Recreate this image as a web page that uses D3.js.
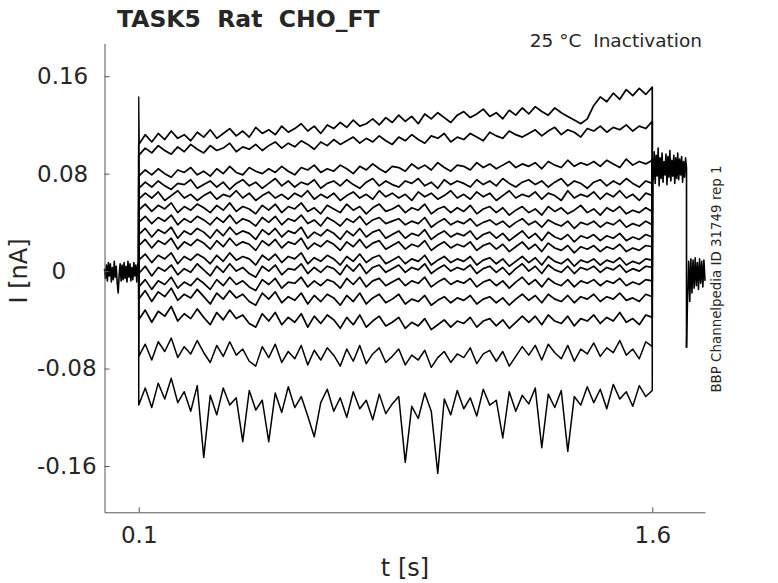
<!DOCTYPE html>
<html>
<head>
<meta charset="utf-8">
<script src="https://cdn.jsdelivr.net/npm/d3@7"></script>
<style>
  body{margin:0;background:#fff;}
  text{font-family:"DejaVu Sans",sans-serif;fill:#262626;}
</style>
</head>
<body>
<svg></svg>
<script>
// currents in pA
let preBase=[2,-6,5,-8,7,-4,6,-9,3,-7,8,-5,4,-10,-18,-3,6,-8,5,-7,7,-6,4,-9,8,-5,6,-8,3,-7,7,-4,5,-9,6,-2];
let postBand=[92,75,98,72,95,78,101,70,93,76,97,73,90,79,96,71,94,77,99,74,91,78,95,72,93,76,97,75,92,79,94,73,90,77,93,85];
let tailBand=[-63,-20,8,-25,10,-18,9,-14,11,-12,7,-15,10,-10,8,-13,9,-8];
let onsetSpike=[0,143,105];

let trace1=[104,112,106,113,108,115,109,112,107,114,110,116,109,113,117,111,115,110,118,113,116,112,119,114,117,121,115,119,113,120,117,122,118,124,119,121,125,120,126,122,128,123,127,121,129,125,130,126,122,128,131,126,129,133,127,130,125,132,128,134,129,135,131,128,134,130,127,124,121,125,136,143,139,146,141,149,144,150,145,151];
let trace2=[95,101,97,103,99,96,102,98,104,100,97,103,99,101,105,98,102,100,104,99,103,106,101,105,102,107,104,100,106,103,108,104,107,110,105,109,106,111,107,104,110,107,112,108,105,111,109,113,106,110,108,113,110,107,114,111,109,115,112,110,113,116,111,115,118,112,116,114,110,117,115,119,114,118,116,120,115,119,117,123];
let trace3=[78,83,79,84,80,77,83,81,85,79,82,78,84,80,86,81,79,85,82,80,84,81,86,82,79,85,83,87,81,84,82,87,84,80,86,83,88,84,81,86,85,82,88,84,87,83,89,85,82,87,86,83,89,85,88,84,87,90,85,88,86,89,84,90,87,85,91,86,89,87,90,86,91,88,85,92,87,90,88,91];
let trace4=[68,73,69,74,70,67,72,71,75,68,71,74,69,73,67,72,75,70,73,68,72,76,70,74,69,73,71,75,68,72,74,70,75,71,68,73,76,70,74,71,69,74,72,76,70,73,68,75,71,74,72,69,75,71,74,70,76,72,69,73,75,71,74,69,73,76,70,74,72,68,73,75,70,74,71,76,72,69,74,72];
let trace5=[59,64,60,65,58,62,66,60,63,58,62,65,59,63,61,66,60,64,58,62,65,60,63,59,64,61,66,59,63,60,64,58,62,65,60,63,59,66,61,64,60,63,58,65,61,64,59,62,66,60,63,59,65,61,64,58,62,66,60,63,61,65,59,64,62,58,66,60,63,61,65,59,64,61,66,60,63,58,64,62];
let trace6=[50,55,49,54,51,56,48,53,50,55,52,48,54,50,56,49,53,51,47,54,50,55,48,53,51,56,49,52,47,54,51,48,55,50,53,47,52,55,49,51,54,48,52,50,55,47,51,53,48,52,49,54,47,51,53,48,52,46,50,53,48,51,46,53,49,52,47,50,54,48,51,46,52,49,53,47,50,48,52,49];
let trace7=[40,45,39,44,41,46,38,43,40,45,42,38,44,40,46,39,43,41,37,44,40,45,38,43,41,46,39,42,37,44,41,37,43,40,45,38,42,44,39,41,43,38,41,39,44,36,40,43,38,41,39,43,37,40,42,38,41,36,40,43,38,41,36,42,39,37,41,35,40,38,41,36,40,38,42,36,39,37,41,38];
let trace8=[30,35,28,34,31,36,27,33,30,35,32,27,34,29,36,30,33,31,26,34,30,35,28,33,31,36,27,32,29,34,31,26,33,29,35,28,32,34,27,30,33,27,31,29,34,26,30,33,28,31,29,33,26,30,32,27,31,25,29,33,27,31,25,32,28,26,30,24,29,27,30,25,29,27,31,25,28,26,30,28];
let trace9=[21,26,19,25,22,27,18,24,21,26,23,18,25,20,27,21,24,22,17,25,21,26,19,24,22,27,18,23,20,25,22,17,24,20,26,19,23,25,18,21,24,18,22,20,25,17,21,24,19,22,20,24,17,21,23,18,22,16,20,24,18,22,16,23,19,17,21,15,20,18,21,16,20,18,22,16,19,17,21,20];
let trace10=[9,14,7,13,10,15,6,12,9,14,11,6,13,8,15,9,12,10,5,13,9,14,7,12,10,15,6,11,8,13,10,5,12,8,14,7,11,13,6,9,12,6,10,8,13,5,9,12,7,10,8,12,5,9,11,6,10,4,8,12,7,11,5,12,8,6,10,4,9,7,10,5,9,7,11,5,8,6,10,9];
let trace11=[-2,4,-4,3,0,5,-3,2,-1,6,1,-4,4,-1,6,0,3,-2,-5,4,0,5,-3,2,1,6,-2,3,-1,4,2,-3,5,0,6,-2,3,5,-1,2,5,-1,3,1,6,-2,2,5,0,3,1,5,-2,2,4,-1,3,-3,2,6,0,4,-2,5,1,-1,4,-2,3,1,4,-1,3,1,5,-1,2,0,4,3];
let trace12=[-13,-7,-15,-8,-11,-5,-14,-9,-12,-6,-10,-15,-7,-12,-5,-11,-8,-13,-16,-7,-11,-6,-14,-9,-10,-5,-13,-8,-12,-7,-9,-14,-6,-11,-5,-13,-8,-6,-12,-9,-6,-12,-8,-10,-5,-13,-9,-6,-11,-8,-10,-6,-13,-9,-7,-12,-8,-14,-9,-5,-11,-7,-13,-6,-10,-12,-7,-13,-8,-10,-7,-12,-8,-10,-6,-12,-9,-11,-7,-8];
let trace13=[-23,-16,-25,-17,-21,-14,-24,-19,-22,-15,-21,-27,-18,-23,-16,-22,-19,-25,-28,-18,-23,-17,-26,-21,-24,-18,-27,-20,-25,-19,-22,-28,-20,-25,-18,-27,-22,-19,-26,-23,-19,-27,-23,-25,-20,-28,-24,-21,-26,-22,-24,-20,-27,-23,-21,-26,-22,-28,-23,-19,-24,-20,-26,-19,-23,-25,-20,-26,-21,-23,-19,-25,-21,-23,-18,-24,-22,-25,-19,-21];
let trace14=[-40,-32,-42,-33,-37,-29,-41,-35,-39,-31,-38,-44,-34,-40,-32,-39,-36,-43,-46,-35,-41,-34,-44,-38,-42,-35,-46,-37,-43,-36,-40,-47,-38,-44,-36,-46,-41,-37,-45,-42,-38,-47,-42,-45,-39,-48,-44,-40,-46,-41,-43,-38,-46,-41,-39,-45,-40,-47,-42,-37,-42,-37,-44,-36,-41,-43,-37,-45,-39,-41,-36,-43,-38,-41,-34,-42,-39,-44,-36,-38];
let trace15=[-70,-60,-73,-58,-66,-55,-71,-62,-68,-57,-67,-75,-61,-70,-58,-69,-64,-74,-78,-62,-71,-60,-75,-66,-72,-61,-77,-65,-73,-63,-69,-78,-64,-74,-61,-76,-68,-63,-75,-70,-64,-77,-69,-73,-65,-79,-71,-66,-75,-68,-71,-63,-76,-68,-65,-74,-66,-78,-70,-62,-69,-61,-73,-60,-67,-72,-61,-74,-64,-68,-59,-70,-63,-67,-57,-69,-64,-72,-58,-62];
let trace16=[-110,-96,-112,-92,-105,-88,-108,-99,-115,-94,-153,-102,-118,-96,-110,-104,-140,-98,-114,-106,-140,-100,-116,-95,-112,-103,-119,-136,-108,-97,-115,-104,-120,-99,-113,-106,-122,-101,-117,-109,-103,-157,-111,-121,-100,-115,-166,-105,-118,-98,-113,-104,-119,-97,-110,-106,-137,-99,-115,-102,-109,-96,-145,-101,-112,-98,-148,-103,-110,-95,-108,-97,-113,-93,-105,-99,-111,-94,-103,-98];

let traces=[trace1,trace2,trace3,trace4,trace5,trace6,trace7,trace8,trace9,trace10,trace11,trace12,trace13,trace14,trace15,trace16];

let xTicks=[0.1,1.6];
let xTickLabels=['0.1','1.6'];
let yTicks=[-160,-80,0,80,160];
let yTickLabels=['-0.16','-0.08','0','0.08','0.16'];

// protocol times [s]
let tStart=0, tStep=0.1, tStepEnd=1.6, tPostEnd=1.70, tEnd=1.754;

let width=778;
let height=583;
const svg=d3.select('svg').attr('width',width).attr('height',height);

let xScale=d3.scaleLinear().domain([tStart,tEnd]).range([104.5,705]);
let yScale=d3.scaleLinear().domain([-198,187]).range([512.3,43.3]);

let line=d3.line().x(d=>xScale(d[0])).y(d=>yScale(d[1]));

// spread n values evenly between t0 and t1
let spread=(vals,t0,t1)=>vals.map((v,i)=>[t0+(t1-t0)*i/(vals.length-1),v]);

let drawTraces=()=>{
  let g=svg.append('g')
    .attr('fill','none')
    .attr('stroke','#000')
    .attr('stroke-linejoin','round');

  let preLast=preBase[preBase.length-1];
  traces.forEach((tr,k)=>{
    let pts=[[tStep,preLast]].concat(spread(tr,tStep,tStepEnd));
    pts.push([tStepEnd,postBand[0]]);
    g.append('path').attr('d',line(pts)).attr('stroke-width',k>13?1.5:1.7);
  });

  g.append('path').attr('d',line(spread(preBase,tStart,tStep))).attr('stroke-width',1.6);
  g.append('path').attr('d',line([[tStep,onsetSpike[0]],[tStep,onsetSpike[1]],[tStep+0.0015,onsetSpike[2]]])).attr('stroke-width',1.3);
  let post=spread(postBand,tStepEnd,tPostEnd);
  post.push([tPostEnd,tailBand[0]]);
  g.append('path').attr('d',line(post)).attr('stroke-width',1.6);
  g.append('path').attr('d',line(spread(tailBand,tPostEnd,tEnd))).attr('stroke-width',1.6);
}

let drawAxes=()=>{
  let xAxis=d3.axisBottom(xScale)
    .tickValues(xTicks)
    .tickFormat((d,i)=>xTickLabels[i])
    .tickSizeInner(-5).tickSizeOuter(0).tickPadding(14);
  let yAxis=d3.axisLeft(yScale)
    .tickValues(yTicks)
    .tickFormat((d,i)=>yTickLabels[i])
    .tickSizeInner(-5).tickSizeOuter(0).tickPadding(17);

  let gx=svg.append('g').attr('transform','translate(0,512.3)').call(xAxis);
  let gy=svg.append('g').attr('transform','translate(104.5,0)').call(yAxis);
  [gx,gy].forEach(g=>{
    g.selectAll('path,line').attr('stroke','#555').attr('stroke-width',1);
    g.selectAll('text').attr('font-size',23).attr('font-family','DejaVu Sans').attr('fill','#262626');
  });
  // labels start at a common left edge, the zero sits on its own
  gy.selectAll('text')
    .attr('text-anchor','start')
    .attr('x',d=>d===0?-53:-67.5);
}

let drawLabels=()=>{
  svg.append('text').attr('x',117).attr('y',27)
    .attr('font-size',23.5).attr('font-weight','bold').attr('fill','#000')
    .style('white-space','pre').text('TASK5  Rat  CHO_FT');
  svg.append('text').attr('x',702).attr('y',47).attr('text-anchor','end')
    .attr('font-size',18.5).attr('fill','#000')
    .style('white-space','pre').text('25 °C  Inactivation');
  svg.append('text').attr('x',405).attr('y',576).attr('text-anchor','middle')
    .attr('font-size',24).text('t [s]');
  svg.append('text').attr('transform','translate(27,271) rotate(-90)').attr('text-anchor','middle')
    .attr('font-size',24).text('I [nA]');
  svg.append('text').attr('transform','translate(721,279) rotate(-90)').attr('text-anchor','middle')
    .attr('font-size',13.4).attr('fill','#000').text('BBP Channelpedia ID 31749 rep 1');
}

drawTraces();
drawAxes();
drawLabels();
</script>
</body>
</html>
